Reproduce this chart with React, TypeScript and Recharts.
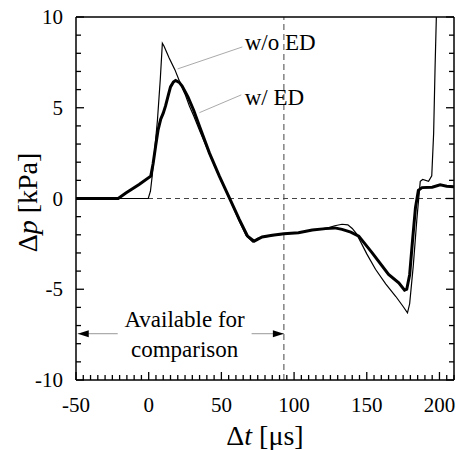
import {
  ComposedChart, Line, XAxis, YAxis, ReferenceLine, ReferenceDot,
} from 'recharts'

// pressure difference without the energy dissipator (thin line)
const tWithoutED = [
  -50, -20, -0.3, 1.2, 2.5, 4, 6, 8, 9.4, 10.5, 14, 18, 22, 25, 28, 31, 35, 40, 45, 50,
  55.5, 62, 67, 71.5, 75, 78, 85, 93, 100, 106, 112, 118, 124, 128, 133, 137, 140, 143,
  150, 156, 163, 170, 175, 178, 179.5, 182, 184.5, 186.8, 188.5, 192.5, 194.7, 196, 197, 198.5,
]
const pWithoutED = [
  0, 0, 0, 0.4, 1.3, 2.6, 4.3, 6.6, 8.55, 8.4, 7.75, 7.1, 6.3, 5.75, 5.1, 4.55, 3.75, 2.8, 1.85, 0.95,
  0.0, -1.2, -2.05, -2.4, -2.2, -2.15, -2.05, -1.97, -1.9, -1.85, -1.75, -1.68, -1.6, -1.5, -1.42, -1.45, -1.65, -1.95,
  -3.05, -3.9, -4.7, -5.4, -5.95, -6.3, -5.8, -3.7, -1.1, 0.95, 1.05, 0.95, 1.25, 3.6, 7.3, 12,
]

// pressure difference with the energy dissipator (thick line)
const tWithED = [
  -50, -21, -15.7, -6.6, 1.4, 3, 4.8, 6.5, 8.2, 10, 11.6, 13.5, 15, 17, 18.5, 21, 23, 27, 31, 35,
  41.8, 48.6, 55.5, 62.3, 68, 72.5, 78, 85, 93, 103, 112.5, 121.7, 128, 133, 139, 144.5, 153.6,
  165, 172, 176, 177.5, 179.5, 181.5, 183.5, 185.5, 188, 195, 200.5, 205, 210,
]
const pWithED = [
  0, 0, 0.3, 0.77, 1.23, 1.9, 2.9, 3.8, 4.35, 4.7, 5.1, 5.7, 6.15, 6.42, 6.5, 6.4, 6.2, 5.6, 4.85, 3.97,
  2.5, 1.23, 0.04, -1.15, -2.07, -2.35, -2.12, -2.03, -1.94, -1.89, -1.74, -1.66, -1.62, -1.7, -1.85, -2.07, -2.98,
  -4.18, -4.65, -5.05, -5.0, -4.2, -2.3, -0.5, 0.45, 0.6, 0.62, 0.75, 0.68, 0.65,
]

const xTickLabels = [-50, 0, 50, 100, 150, 200]
const yTickLabels = [-10, -5, 0, 5, 10]
const xMinorStep = 5
const yMinorStep = 1
const xDomain = [-50, 210]
const yDomain = [-10, 10]

const comparisonLimit = 93
const arrowLevel = -7.45

const FONT = 'Liberation Serif'

const withoutData = tWithoutED.map((t, i) => ({ t, p: pWithoutED[i] }))
const withData = tWithED.map((t, i) => ({ t, p: pWithED[i] }))

const xTicks = Array.from(
  { length: (xDomain[1] - xDomain[0]) / xMinorStep + 1 },
  (_, i) => xDomain[0] + i * xMinorStep,
)
const yTicks = Array.from(
  { length: (yDomain[1] - yDomain[0]) / yMinorStep + 1 },
  (_, i) => yDomain[0] + i * yMinorStep,
)

const tickLen = (major: boolean) => (major ? 8 : 5)

function BottomTick({ x, y, payload }: any) {
  const major = xTickLabels.includes(payload.value)
  return (
    <g>
      <line x1={x} y1={y} x2={x} y2={y - tickLen(major)} stroke="#000" strokeWidth={1.3} />
      {major && (
        <text x={x} y={y + 32} textAnchor="middle" fontSize={21} fontFamily={FONT} fill="#000">
          {payload.value}
        </text>
      )}
    </g>
  )
}

function TopTick({ x, y, payload }: any) {
  const major = xTickLabels.includes(payload.value)
  return <line x1={x} y1={y} x2={x} y2={y + tickLen(major)} stroke="#000" strokeWidth={1.3} />
}

function LeftTick({ x, y, payload }: any) {
  const major = yTickLabels.includes(payload.value)
  return (
    <g>
      <line x1={x} y1={y} x2={x + tickLen(major)} y2={y} stroke="#000" strokeWidth={1.3} />
      {major && (
        <text x={x - 13} y={y + 7} textAnchor="end" fontSize={21} fontFamily={FONT} fill="#000">
          {payload.value}
        </text>
      )}
    </g>
  )
}

function RightTick({ x, y, payload }: any) {
  const major = yTickLabels.includes(payload.value)
  return <line x1={x} y1={y} x2={x - tickLen(major)} y2={y} stroke="#000" strokeWidth={1.3} />
}

function XTitle({ viewBox }: any) {
  const { x, y, width } = viewBox
  return (
    <text x={x + width / 2} y={y + 65} textAnchor="middle" fontSize={28} fontFamily={FONT} fill="#000">
      <tspan>Δ</tspan>
      <tspan fontStyle="italic">t</tspan>
      <tspan> [μs]</tspan>
    </text>
  )
}

function YTitle({ viewBox }: any) {
  const { x, y, height } = viewBox
  const cx = x + 11
  const cy = y + height / 2 + 4
  return (
    <text
      x={cx}
      y={cy}
      dy="0.35em"
      textAnchor="middle"
      fontSize={28}
      fontFamily={FONT}
      fill="#000"
      transform={`rotate(-90, ${cx}, ${cy})`}
    >
      <tspan>Δ</tspan>
      <tspan fontStyle="italic">p</tspan>
      <tspan> [kPa]</tspan>
    </text>
  )
}

function Arrow({ x1, y1, x2, y2, head }: any) {
  const tx = head === 'start' ? x1 : x2
  const ty = head === 'start' ? y1 : y2
  const dir = head === 'start' ? 1 : -1
  return (
    <g>
      <line x1={x1} y1={y1} x2={x2} y2={y2} stroke="#999" strokeWidth={1} />
      <polygon
        points={`${tx},${ty} ${tx + dir * 11},${ty - 3.5} ${tx + dir * 11},${ty + 3.5}`}
        fill="#000"
      />
    </g>
  )
}

function Leader({ x1, y1, x2, y2 }: any) {
  return <line x1={x1} y1={y1} x2={x2} y2={y2} stroke="#aaa" strokeWidth={1} />
}

const textShape = (lines: string[], size: number, anchor: string, gap: number) => ({ cx, cy }: any) => (
  <text x={cx} y={cy} textAnchor={anchor} fontSize={size} fontFamily={FONT} fill="#000">
    {lines.map((s, i) => (
      <tspan key={s} x={cx} y={cy + (i - (lines.length - 1) / 2) * gap} dy="0.35em">
        {s}
      </tspan>
    ))}
  </text>
)

export default function App() {
  return (
    <div style={{ position: 'absolute', left: 0, top: 0 }}>
      <ComposedChart width={460} height={450} margin={{ top: 16, right: 5, bottom: 30, left: 16 }}>
        <XAxis
          xAxisId="bottom"
          type="number"
          dataKey="t"
          domain={xDomain}
          ticks={xTicks}
          interval={0}
          allowDataOverflow
          tickSize={0}
          tickMargin={0}
          height={40}
          axisLine={{ stroke: '#000', strokeWidth: 1.5 }}
          tick={BottomTick}
          label={(p: any) => <XTitle viewBox={p.viewBox} />}
        />
        <XAxis
          xAxisId="top"
          orientation="top"
          type="number"
          domain={xDomain}
          ticks={xTicks}
          interval={0}
          allowDataOverflow
          tickSize={0}
          tickMargin={0}
          height={1}
          axisLine={{ stroke: '#000', strokeWidth: 1.5 }}
          tick={TopTick}
        />
        <YAxis
          yAxisId="left"
          type="number"
          domain={yDomain}
          ticks={yTicks}
          interval={0}
          allowDataOverflow
          tickSize={0}
          tickMargin={0}
          width={60}
          axisLine={{ stroke: '#000', strokeWidth: 1.5 }}
          tick={LeftTick}
          label={(p: any) => <YTitle viewBox={p.viewBox} />}
        />
        <YAxis
          yAxisId="right"
          orientation="right"
          type="number"
          domain={yDomain}
          ticks={yTicks}
          interval={0}
          allowDataOverflow
          tickSize={0}
          tickMargin={0}
          width={1}
          axisLine={{ stroke: '#000', strokeWidth: 1.5 }}
          tick={RightTick}
        />

        <ReferenceLine xAxisId="bottom" yAxisId="left" y={0} stroke="#444" strokeDasharray="5 4" strokeWidth={1} />
        <ReferenceLine xAxisId="bottom" yAxisId="left" x={comparisonLimit} stroke="#444" strokeDasharray="6 4" strokeWidth={1} />

        <ReferenceLine
          xAxisId="bottom"
          yAxisId="left"
          segment={[{ x: -48.8, y: arrowLevel }, { x: -21.3, y: arrowLevel }]}
          shape={(p: any) => <Arrow {...p} head="start" />}
        />
        <ReferenceLine
          xAxisId="bottom"
          yAxisId="left"
          segment={[{ x: 70.8, y: arrowLevel }, { x: comparisonLimit, y: arrowLevel }]}
          shape={(p: any) => <Arrow {...p} head="end" />}
        />
        <ReferenceDot
          xAxisId="bottom"
          yAxisId="left"
          x={24.7}
          y={arrowLevel}
          r={1}
          shape={textShape(['Available for', 'comparison'], 23, 'middle', 30)}
        />

        <ReferenceLine
          xAxisId="bottom"
          yAxisId="left"
          segment={[{ x: 19.9, y: 7.14 }, { x: 64.4, y: 8.35 }]}
          shape={Leader}
        />
        <ReferenceLine
          xAxisId="bottom"
          yAxisId="left"
          segment={[{ x: 34.9, y: 4.73 }, { x: 63.7, y: 5.71 }]}
          shape={Leader}
        />
        <ReferenceDot xAxisId="bottom" yAxisId="left" x={66} y={8.63} r={1} shape={textShape(['w/o ED'], 23, 'start', 0)} />
        <ReferenceDot xAxisId="bottom" yAxisId="left" x={66} y={5.6} r={1} shape={textShape(['w/ ED'], 23, 'start', 0)} />

        <Line
          xAxisId="bottom"
          yAxisId="left"
          data={withoutData}
          dataKey="p"
          type="linear"
          stroke="#000"
          strokeWidth={1.2}
          dot={false}
          isAnimationActive={false}
        />
        <Line
          xAxisId="bottom"
          yAxisId="left"
          data={withData}
          dataKey="p"
          type="linear"
          stroke="#000"
          strokeWidth={3}
          dot={false}
          isAnimationActive={false}
        />
      </ComposedChart>
    </div>
  )
}
